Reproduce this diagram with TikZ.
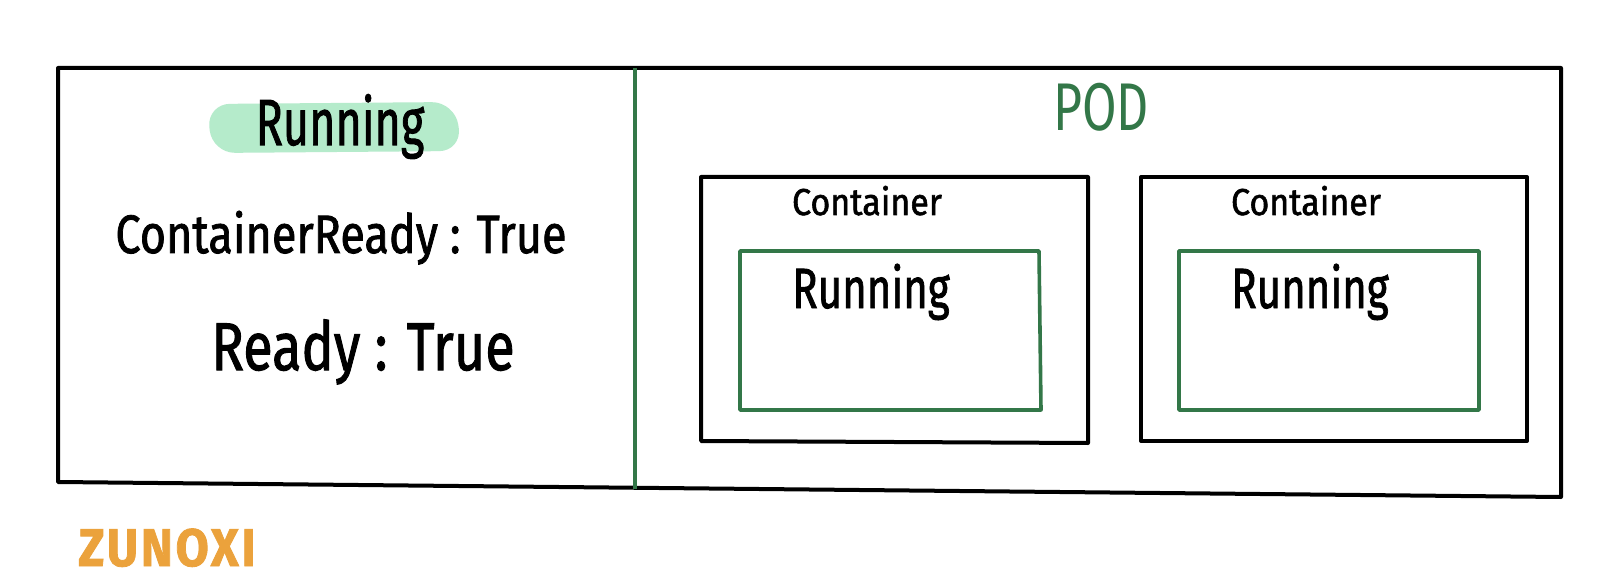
\documentclass[tikz,border=0pt]{standalone}
\usepackage{fontspec}
\setmainfont{Fira Sans}[FakeBold=1.6]
\newfontfamily\plainhand{Fira Sans}
\definecolor{podgreen}{HTML}{337748}
\definecolor{mint}{HTML}{B5EBCB}
\definecolor{sign}{HTML}{EBA23C}
\tikzset{
  frame/.style={draw=black, line width=4pt, line join=round},
  runbox/.style={draw=podgreen, line width=3.6pt, line join=round},
  hand/.style={inner sep=0pt, anchor=base, text=black},
}
\newcommand{\fs}[1]{\fontsize{#1}{#1}\selectfont}
\begin{document}
\begin{tikzpicture}[x=1pt, y=-1pt]
  \useasboundingbox[fill=white] (0,0) rectangle (1620,588);

  % highlighter stroke behind the pod phase
  \fill[mint, rounded corners=23pt] (207,104) -- (455,102) -- (462,151) -- (212,153) -- cycle;

  % pod outline, split into status and containers
  \draw[frame] (58,68) -- (1561,68) -- (1561,497) -- (58,482) -- cycle;
  \draw[draw=podgreen, line width=3.6pt] (635,68) -- (635,489);

  % containers with their running state
  \draw[frame] (701,177) -- (1088,177) -- (1088,443) -- (701,441) -- cycle;
  \draw[runbox] (740,251) -- (1039,251) -- (1041,410) -- (740,410) -- cycle;
  \draw[frame] (1141,177) -- (1527,177) -- (1527,441) -- (1141,441) -- cycle;
  \draw[runbox] (1179,251) -- (1479,251) -- (1479,410) -- (1179,410) -- cycle;

  % status texts
  \node[hand, yscale=1.45, font=\fs{45}] (phase) at (340,145) {Running};
  \node[hand, yscale=1.2, font=\fs{45}] (cready) at (341,253) {ContainerReady : True};
  \node[hand, yscale=1.25, font=\fs{54}] (ready) at (363,370) {Ready : True};

  \node[hand, yscale=1.35, font=\plainhand\fs{50}, text=podgreen] (pod) at (1101,131) {POD};

  \node[hand, yscale=1.1, font=\fs{34}] (c1) at (867,215) {Container};
  \node[hand, yscale=1.1, font=\fs{34}] (c2) at (1306,215) {Container};
  \node[hand, yscale=1.35, font=\fs{42}] (r1) at (871,308) {Running};
  \node[hand, yscale=1.35, font=\fs{42}] (r2) at (1310,308) {Running};

  \node[hand, yscale=1.1, font=\fs{48}\bfseries\addfontfeatures{LetterSpace=6}, text=sign] (sig) at (167,566) {ZUNOXI};
\end{tikzpicture}
\end{document}
